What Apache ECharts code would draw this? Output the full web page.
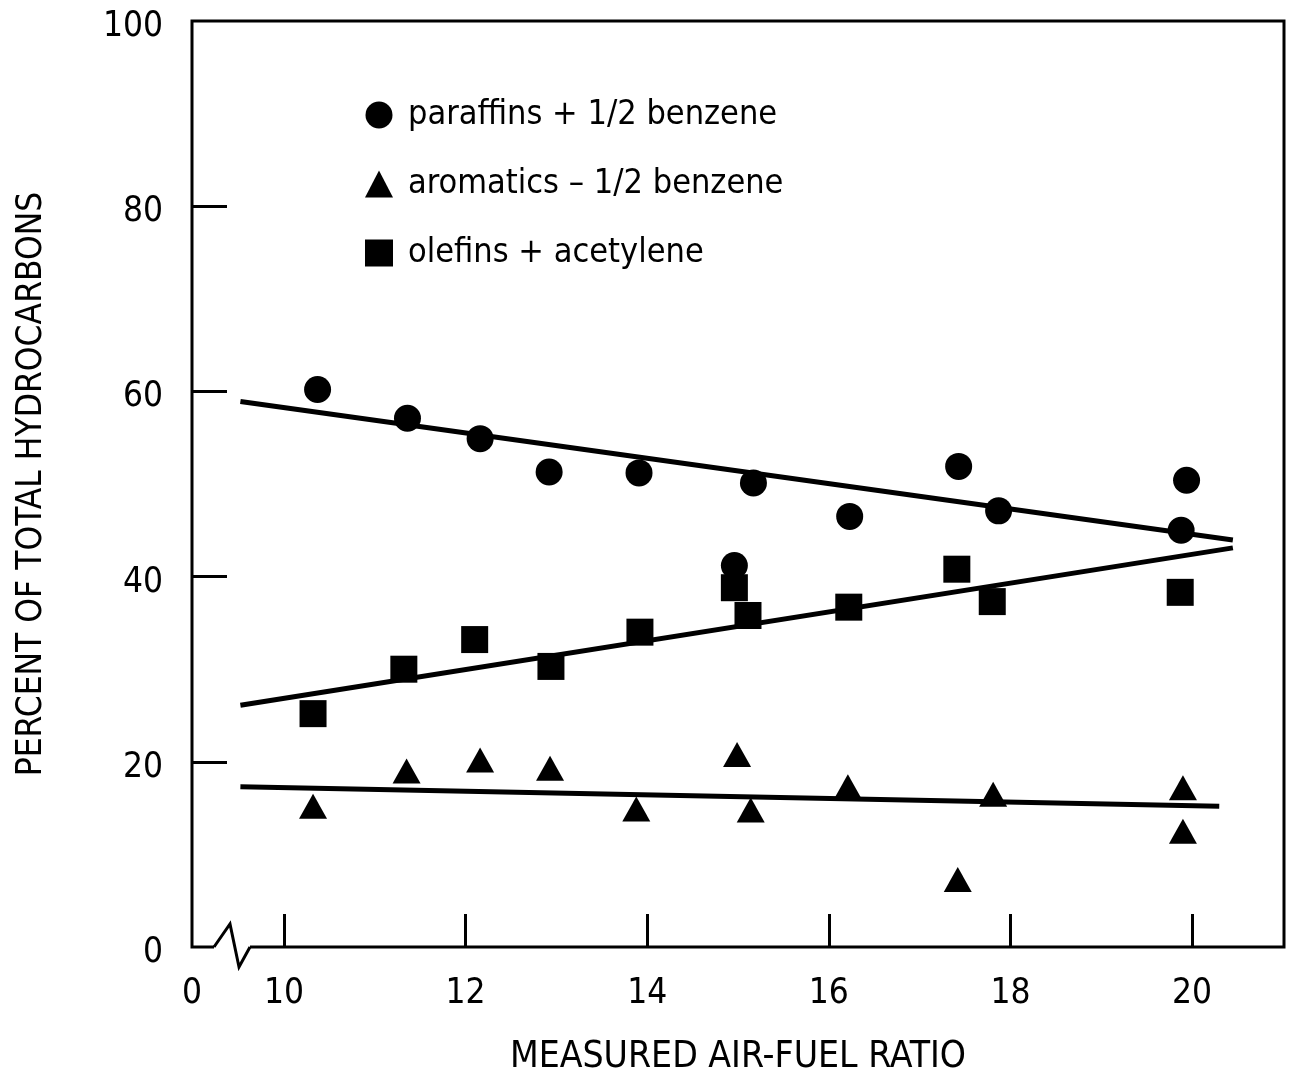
<!DOCTYPE html>
<html>
<head>
<meta charset="utf-8">
<script src="https://cdn.jsdelivr.net/npm/echarts@6/dist/echarts.min.js"></script>
<style>
html,body{margin:0;padding:0;background:#fff;}
#chart{width:1292px;height:1082px;}
</style>
</head>
<body>
<div id="chart"></div>
<script>
// ---- data ----
const seriesNames = ['paraffins + 1/2 benzene', 'aromatics \u2013 1/2 benzene', 'olefins + acetylene'];

const paraffinX = [10.37, 11.36, 12.16, 12.92, 13.91, 14.96, 15.17, 16.23, 17.43, 17.87, 19.94, 19.88];
const paraffinY = [60.2, 57.1, 54.9, 51.3, 51.2, 41.2, 50.1, 46.5, 51.9, 47.1, 50.4, 45.0];

const aromaticX = [10.32, 11.35, 12.16, 12.93, 13.88, 14.99, 15.14, 16.21, 17.42, 17.81, 19.90, 19.90];
const aromaticY = [15.2, 19.0, 20.2, 19.3, 14.9, 20.8, 14.8, 17.3, 7.3, 16.5, 17.2, 12.5];

const olefinX = [10.32, 11.32, 12.10, 12.94, 13.92, 14.96, 15.11, 16.22, 17.41, 17.80, 19.87];
const olefinY = [25.2, 30.0, 33.2, 30.3, 34.0, 38.8, 35.8, 36.7, 40.8, 37.3, 38.3];

// fitted trend lines (end points)
const paraffinFitX = [9.52, 20.45];
const paraffinFitY = [58.9, 43.95];
const olefinFitX = [9.52, 20.45];
const olefinFitY = [26.1, 43.1];
const aromaticFitX = [9.52, 20.3];
const aromaticFitY = [17.3, 15.2];

// axes
const xMin = 8.987, xMax = 21.013;       // broken axis: origin labelled "0"
const xOriginLabel = '0';
const xTicks = [10, 12, 14, 16, 18, 20];
const yTicks = [20, 40, 60, 80];
const yLabels = [0, 20, 40, 60, 80, 100];
const xTitle = 'MEASURED AIR-FUEL RATIO';
const yTitle = 'PERCENT OF TOTAL HYDROCARBONS';

// ---- chart ----
const zip = (xs, ys) => xs.map((x, i) => [x, ys[i]]);
const FONT = "'Liberation Sans Narrow','DejaVu Sans Condensed','Liberation Sans',sans-serif";
const chart = echarts.init(document.getElementById('chart'), null, {renderer: 'canvas'});

const fitLine = (xs, ys) => ({
  type: 'line', data: zip(xs, ys), symbol: 'none', silent: true,
  lineStyle: {color: '#000', width: 5}, z: 2
});

chart.setOption({
  animation: false,
  backgroundColor: '#fff',
  textStyle: {fontFamily: FONT, color: '#000'},
  grid: {left: 192, right: 8, top: 21, bottom: 135, show: true, borderColor: '#000', borderWidth: 3, outerBoundsMode: 'none', containLabel: false},
  legend: {
    orient: 'vertical', left: 360, top: 93, itemWidth: 28, itemHeight: 27, itemGap: 35,
    data: seriesNames,
    textStyle: {fontFamily: FONT, fontSize: 34, color: '#000', padding: [0, 0, 10, 10]},
    selectedMode: false
  },
  xAxis: {
    type: 'value', min: xMin, max: xMax,
    axisLine: {show: false},
    splitLine: {show: false},
    axisTick: {show: true, inside: true, length: 33, customValues: xTicks, lineStyle: {color: '#000', width: 3}},
    axisLabel: {
      customValues: [xMin].concat(xTicks), margin: 29, fontSize: 35, color: '#000', fontFamily: FONT,
      formatter: v => (Math.abs(v - xMin) < 1e-6 ? xOriginLabel : String(v))
    },
    name: xTitle, nameLocation: 'middle', nameGap: 92,
    nameTextStyle: {fontSize: 37, color: '#000', fontFamily: FONT}
  },
  yAxis: {
    type: 'value', min: 0, max: 100,
    axisLine: {show: false},
    splitLine: {show: false},
    axisTick: {show: true, inside: true, length: 35, customValues: yTicks, lineStyle: {color: '#000', width: 3}},
    axisLabel: {customValues: yLabels, margin: 29, fontSize: 35, color: '#000', fontFamily: FONT, verticalAlign: 'top', lineHeight: 12},
    name: yTitle, nameLocation: 'middle', nameGap: 143, nameRotate: 90,
    nameTextStyle: {fontSize: 35, color: '#000', fontFamily: FONT}
  },
  series: [
    fitLine(paraffinFitX, paraffinFitY),
    fitLine(olefinFitX, olefinFitY),
    fitLine(aromaticFitX, aromaticFitY),
    {name: seriesNames[0], type: 'scatter', data: zip(paraffinX, paraffinY), symbol: 'circle', symbolSize: 27, itemStyle: {color: '#000', opacity: 1}, z: 3},
    {name: seriesNames[1], type: 'scatter', data: zip(aromaticX, aromaticY), symbol: 'triangle', symbolSize: [28, 25], itemStyle: {color: '#000', opacity: 1}, z: 3},
    {name: seriesNames[2], type: 'scatter', data: zip(olefinX, olefinY), symbol: 'rect', symbolSize: 27, itemStyle: {color: '#000', opacity: 1}, z: 3}
  ]
});

// axis-break zigzag on the bottom axis, placed relative to the axis origin
const o = chart.convertToPixel({xAxisIndex: 0, yAxisIndex: 0}, [xMin, 0]);
chart.setOption({
  graphic: [
    {type: 'rect', shape: {x: o[0] + 22, y: o[1] - 4, width: 36, height: 8}, style: {fill: '#fff'}, z: 100},
    {type: 'polyline', shape: {points: [[o[0] + 22, o[1]], [o[0] + 38, o[1] - 23], [o[0] + 47, o[1] + 20], [o[0] + 58, o[1]]]},
     style: {stroke: '#000', lineWidth: 3, fill: null, lineJoin: 'miter'}, z: 101}
  ]
});
</script>
</body>
</html>
